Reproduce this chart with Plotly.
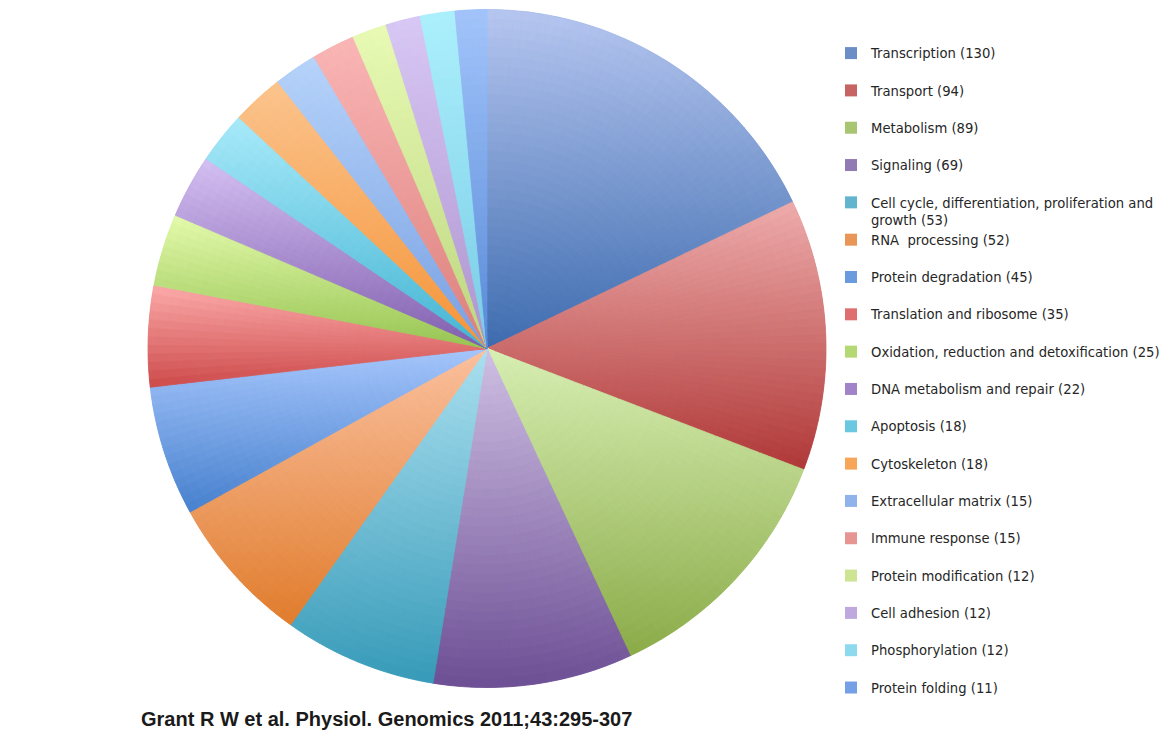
import math
import numpy as np
import plotly.graph_objects as go

# ---------------- data ----------------
categories = [
    "Transcription",
    "Transport",
    "Metabolism",
    "Signaling",
    "Cell cycle, differentiation, proliferation and growth",
    "RNA  processing",
    "Protein degradation",
    "Translation and ribosome",
    "Oxidation, reduction and detoxification",
    "DNA metabolism and repair",
    "Apoptosis",
    "Cytoskeleton",
    "Extracellular matrix",
    "Immune response",
    "Protein modification",
    "Cell adhesion",
    "Phosphorylation",
    "Protein folding",
]
counts = [130, 94, 89, 69, 53, 52, 45, 35, 25, 22, 18, 18, 15, 15, 12, 12, 12, 11]
citation = "Grant R W et al. Physiol. Genomics 2011;43:295-307"

# ---------------- styles ----------------
# light (top of slice) and full (bottom of slice) colours of each slice's vertical gradient
TOP = [
    (182, 198, 240), (238, 172, 172), (216, 239, 180), (208, 193, 228),
    (172, 224, 240), (251, 193, 160), (166, 198, 252), (252, 170, 170),
    (228, 250, 172), (212, 192, 242), (168, 234, 250), (251, 196, 142),
    (182, 211, 250), (250, 182, 182), (232, 250, 180), (216, 200, 245),
    (172, 240, 252), (162, 196, 250),
]
BOTTOM = [
    (62, 108, 175), (175, 56, 55), (138, 171, 72), (108, 78, 148),
    (54, 154, 184), (224, 124, 44), (70, 128, 205), (205, 74, 74),
    (150, 196, 82), (128, 94, 174), (68, 180, 210), (245, 148, 56),
    (120, 160, 226), (220, 128, 124), (188, 214, 128), (174, 148, 206),
    (122, 204, 230), (88, 138, 216),
]

W, H = 1174, 732
CX, CY, R = 487.0, 348.5, 339.0
N_RINGS = 36
MAX_STEP = 1.5  # degrees per sub-wedge


def mix(c0, c1, t):
    t = min(max(t, 0.0), 1.0)
    return "rgb(%d,%d,%d)" % tuple(round(a + (b - a) * t) for a, b in zip(c0, c1))


total = float(sum(counts))
bounds = np.concatenate([[0.0], np.cumsum(counts)]) / total * 360.0

# vertical extent (unit radius, y up) of each slice
extents = []
for k in range(len(counts)):
    a0, a1 = bounds[k], bounds[k + 1]
    ys = [0.0, math.cos(math.radians(a0)), math.cos(math.radians(a1))]
    if a0 <= 0.0 <= a1:
        ys.append(1.0)
    if a0 <= 180.0 <= a1:
        ys.append(-1.0)
    extents.append((max(ys), min(ys)))

# sub-wedge split of each slice (derived from counts)
sub = []
for k, v in enumerate(counts):
    span = bounds[k + 1] - bounds[k]
    n = max(1, math.ceil(span / MAX_STEP))
    for j in range(n):
        am = bounds[k] + span * (j + 0.5) / n
        sub.append((k, v / n, am))

fig = go.Figure()

# base pie: provides the legend and fills any seam
legend_labels = []
for c, v in zip(categories, counts):
    txt = "%s (%d)" % (c, v)
    if len(txt) > 48:
        cut = txt.rfind(" ", 0, 48)
        txt = txt[:cut] + "<br>" + txt[cut + 1:]
    else:
        txt = txt + "<br> "
    legend_labels.append(txt)

fig.add_trace(go.Pie(
    labels=legend_labels,
    values=counts,
    sort=False,
    direction="clockwise",
    rotation=0,
    textinfo="none",
    hoverinfo="label+value",
    marker=dict(colors=[mix(t, b, 0.62) for t, b in zip(TOP, BOTTOM)],
                line=dict(width=0)),
    domain=dict(x=[(CX - R) / W, (CX + R) / W], y=[(H - CY - R) / H, (H - CY + R) / H]),
    showlegend=True,
))

# gradient rings
for i in range(N_RINGS):
    r0 = R * i / N_RINGS
    r1 = R * (i + 1) / N_RINGS
    rm = (r0 + r1) / 2.0 / R
    cols = []
    for k, v, am in sub:
        ymax, ymin = extents[k]
        y = rm * math.cos(math.radians(am))
        t = (ymax - y) / (ymax - ymin) if ymax > ymin else 0.5
        cols.append(mix(TOP[k], BOTTOM[k], t))
    fig.add_trace(go.Pie(
        labels=list(range(len(sub))),
        values=[s[1] for s in sub],
        sort=False,
        direction="clockwise",
        rotation=0,
        textinfo="none",
        hoverinfo="skip",
        hole=r0 / r1 if i > 0 else 0,
        marker=dict(colors=cols, line=dict(color=cols, width=0.8)),
        domain=dict(x=[(CX - r1) / W, (CX + r1) / W], y=[(H - CY - r1) / H, (H - CY + r1) / H]),
        showlegend=False,
    ))

fig.add_annotation(
    text=citation,
    x=139 / W, xref="paper", xanchor="left",
    y=(H - 719) / H, yref="paper", yanchor="middle",
    showarrow=False,
    font=dict(family="Liberation Sans, Arial, sans-serif", size=20, color="#1a1a1a", weight="bold"),
)

fig.update_layout(
    width=W, height=H,
    margin=dict(l=0, r=0, t=0, b=0),
    paper_bgcolor="white",
    plot_bgcolor="white",
    legend=dict(
        x=831 / W, xanchor="left",
        y=(H - 38) / H, yanchor="top",
        font=dict(family="DejaVu Sans, sans-serif", size=13.2, color="#262626"),
        valign="top",
        bgcolor="rgba(0,0,0,0)",
        traceorder="normal",
    ),
)

fig.write_html("out.html")
